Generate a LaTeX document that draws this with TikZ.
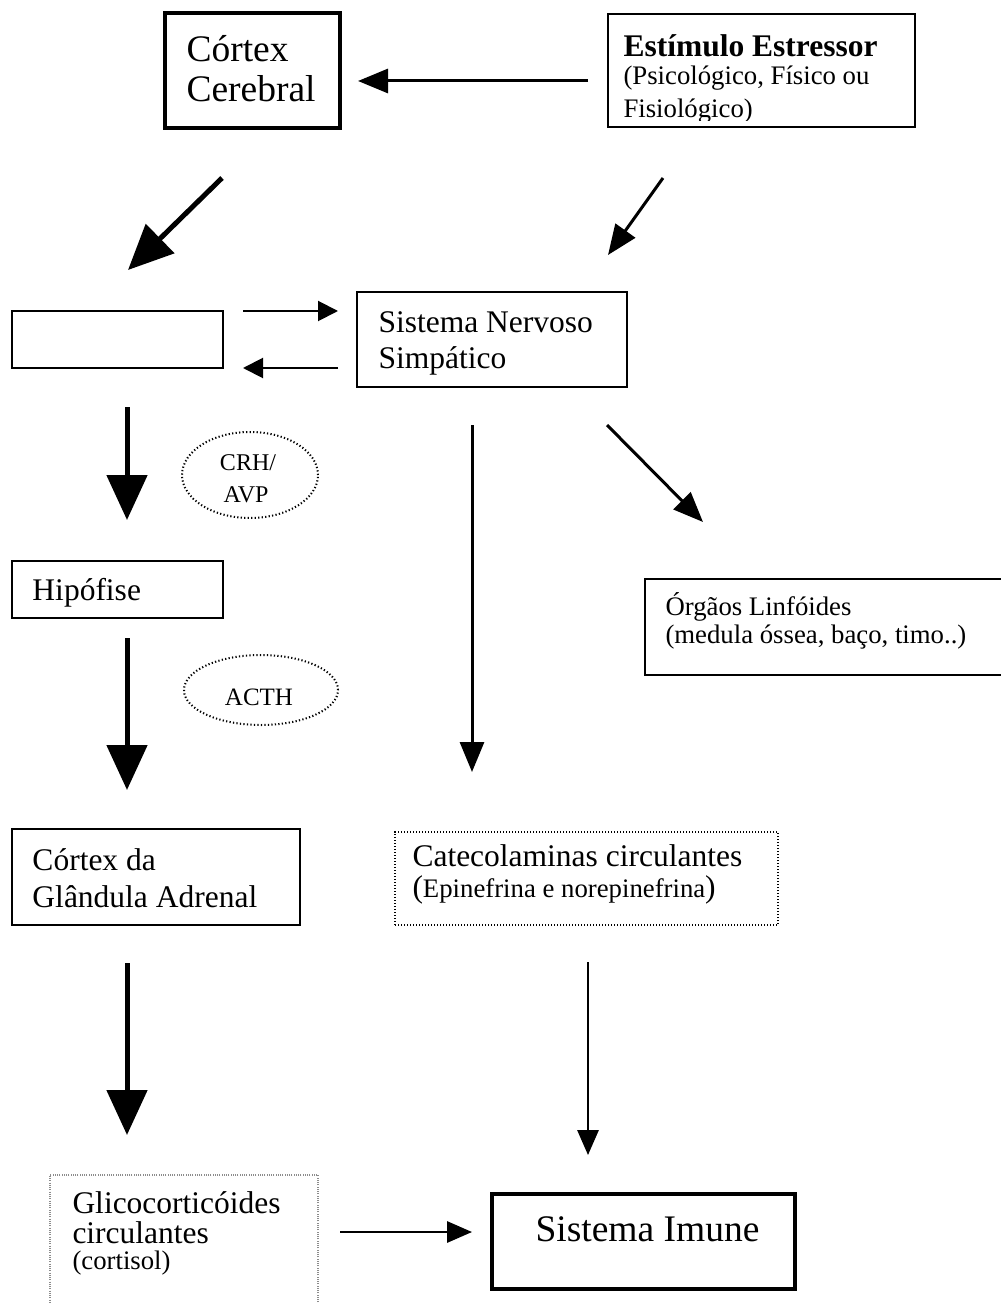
\documentclass[tikz,border=0pt]{standalone}
\usepackage{fontspec}
\setmainfont{Liberation Serif}
\usetikzlibrary{arrows.meta,fit,shapes.geometric}
\newcommand\fnorm{\fontsize{12.6pt}{15pt}\selectfont}
\newcommand\flarge{\fontsize{15pt}{18pt}\selectfont}
\newcommand\fsmall{\fontsize{10.7pt}{13pt}\selectfont}
\newcommand\fcrh{\fontsize{9.6pt}{11pt}\selectfont}
\newcommand\facth{\fontsize{10pt}{12pt}\selectfont}
\tikzset{
  box/.style={draw, line width=0.8pt, inner sep=0pt},
  thickbox/.style={draw, line width=1.6pt, inner sep=0pt},
  dotbox/.style={draw, line width=0.8pt, dash pattern=on 0.5pt off 0.7pt, inner sep=0pt},
  graybox/.style={draw=black!45, line width=0.5pt, dash pattern=on 0.4pt off 0.5pt, inner sep=0pt},
  dotell/.style={ellipse, draw, line width=0.8pt, dash pattern=on 0.5pt off 0.9pt, inner sep=0pt},
  lbl/.style={anchor=base west, inner sep=0pt},
  clbl/.style={anchor=base, inner sep=0pt},
  bigarr/.style={line width=2pt, -{Triangle[length=18pt,width=16pt]}},
  midarr/.style={line width=1.2pt, -{Triangle[length=12pt,width=9.6pt]}},
  lowarr/.style={line width=0.9pt, -{Triangle[length=10pt,width=8.5pt]}},
  smallarr/.style={line width=0.8pt, -{Triangle[length=8pt,width=8pt]}}
}
\begin{document}
\begin{tikzpicture}[x=0.4pt,y=-0.4pt]
\useasboundingbox (0,0) rectangle (1000,1304);
% boxes
\node[thickbox, fit={(165,13) (340,128)}] (cortex) {};
\node[box, fit={(608,14) (915,127)}] (estim) {};
\node[box, fit={(12,311) (223,368)}] (hipot) {};
\node[box, fit={(357,292) (627,387)}] (sns) {};
\node[box, fit={(12,561) (223,618)}] (hip) {};
\node[box, fit={(645,579) (1010,675)}] (org) {};
\node[box, fit={(12,829) (300,925)}] (adr) {};
\node[dotbox, fit={(395,832) (778,925)}] (cat) {};
\node[graybox, fit={(50,1175) (318,1320)}] (gli) {};
\node[thickbox, fit={(492,1194) (795,1289)}] (imu) {};
% ellipses
\node[dotell, minimum width=54.4pt, minimum height=34.4pt] (crh) at (250,475) {};
\node[dotell, minimum width=61.6pt, minimum height=28pt] (acth) at (261,690) {};
% texts
\node[lbl, font=\flarge] (cc1) at (186,62) {Córtex};
\node[lbl, font=\flarge] (cc2) at (186,102) {Cerebral};
\begin{scope}
\clip (608,14) rectangle (915,121);
\node[lbl, font=\fnorm\bfseries] (est1) at (623,57) {Estímulo Estressor};
\node[lbl, font=\fsmall] (est2) at (623,85) {(Psicológico, Físico ou};
\node[lbl, font=\fsmall] (est3) at (623,118) {Fisiológico)};
\end{scope}
\node[lbl, font=\fnorm] (sns1) at (378,332) {Sistema Nervoso};
\node[lbl, font=\fnorm] (sns2) at (378,368) {Simpático};
\node[clbl, font=\fcrh] (crh1) at (248,470) {CRH/};
\node[clbl, font=\fcrh] (crh2) at (246,502) {AVP};
\node[lbl, font=\fnorm] (hip1) at (32,600) {Hipófise};
\node[clbl, font=\facth] (acth1) at (259,705) {ACTH};
\node[lbl, font=\fsmall] (org1) at (665,615) {Órgãos Linfóides};
\node[lbl, font=\fsmall] (org2) at (665,643) {(medula óssea, baço, timo..)};
\node[lbl, font=\fnorm] (adr1) at (32,870) {Córtex da};
\node[lbl, font=\fnorm] (adr2) at (32,907) {Glândula Adrenal};
\node[lbl, font=\fnorm] (cat1) at (412,866) {Catecolaminas circulantes};
\node[lbl, font=\fsmall] (cat2) at (412,897) {{\fnorm(}Epinefrina e norepinefrina{\fnorm)}};
\node[lbl, font=\fnorm] (gli1) at (72,1213) {Glicocorticóides};
\node[lbl, font=\fnorm] (gli2) at (72,1243) {circulantes};
\node[lbl, font=\fsmall] (gli3) at (72,1269) {(cortisol)};
\node[lbl, font=\flarge] (imu1) at (535,1241) {Sistema Imune};
% connector end points
\coordinate (a1s) at (588,81);   \coordinate (a1e) at (358,81);
\coordinate (a2s) at (222,178);  \coordinate (a2e) at (128,270);
\coordinate (a3s) at (663,178);  \coordinate (a3e) at (608,255);
\coordinate (a4s) at (243,311);  \coordinate (a4e) at (338,311);
\coordinate (a5s) at (338,368);  \coordinate (a5e) at (243,368);
\coordinate (a6s) at (127,407);  \coordinate (a6e) at (127,520);
\coordinate (a7s) at (127,638);  \coordinate (a7e) at (127,790);
\coordinate (a8s) at (472,425);  \coordinate (a8e) at (472,772);
\coordinate (a9s) at (607,425);  \coordinate (a9e) at (703,522);
\coordinate (a10s) at (127,963); \coordinate (a10e) at (127,1135);
\coordinate (a11s) at (588,962); \coordinate (a11e) at (588,1155);
\coordinate (a12s) at (340,1232);\coordinate (a12e) at (472,1232);
% connectors
\draw[midarr] (a1s) -- (a1e);
\draw[bigarr] (a2s) -- (a2e);
\draw[midarr] (a3s) -- (a3e);
\draw[smallarr] (a4s) -- (a4e);
\draw[smallarr] (a5s) -- (a5e);
\draw[bigarr] (a6s) -- (a6e);
\draw[bigarr] (a7s) -- (a7e);
\draw[midarr] (a8s) -- (a8e);
\draw[midarr] (a9s) -- (a9e);
\draw[bigarr] (a10s) -- (a10e);
\draw[lowarr] (a11s) -- (a11e);
\draw[lowarr] (a12s) -- (a12e);
\end{tikzpicture}
\end{document}
